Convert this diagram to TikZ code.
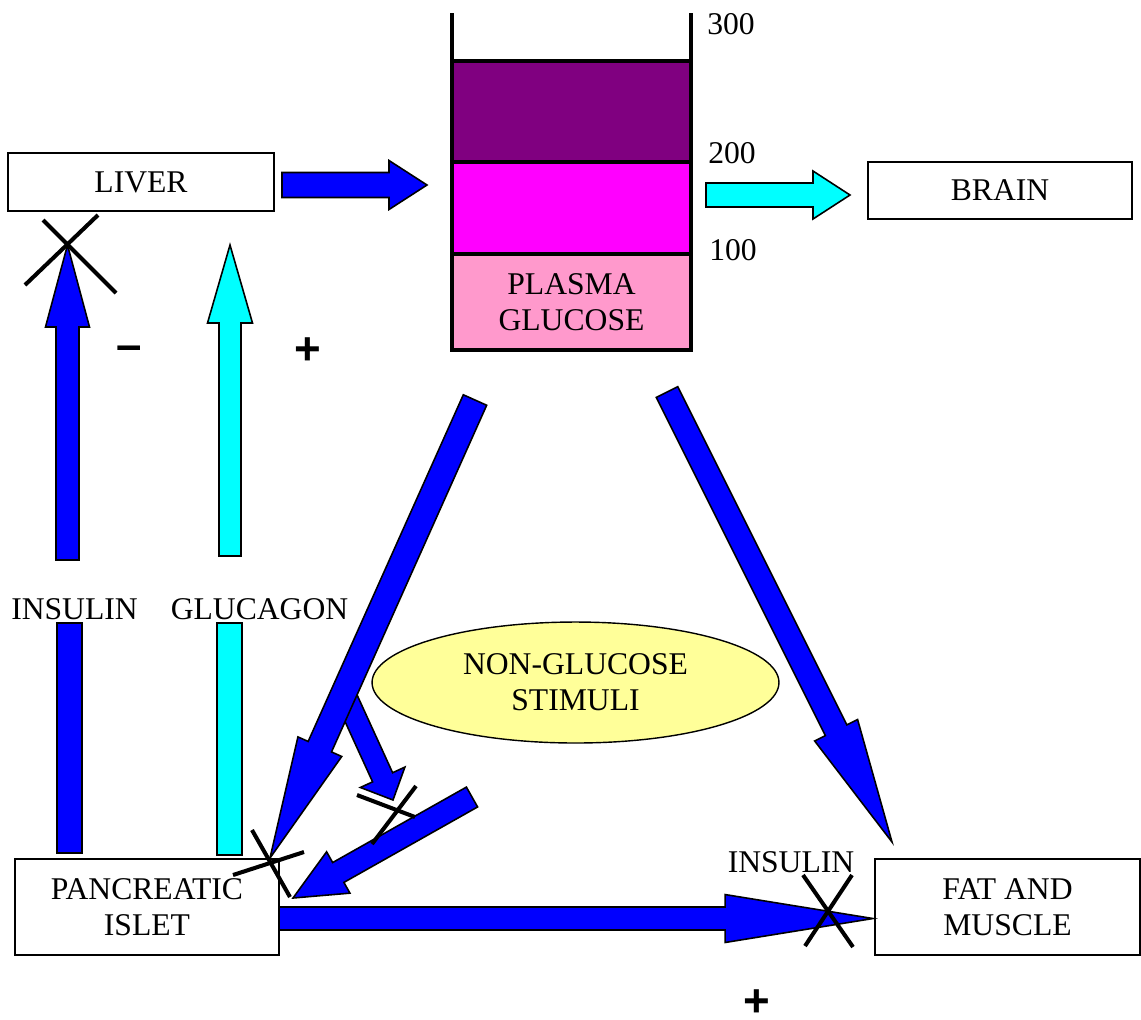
\documentclass[tikz,border=0pt]{standalone}
\usepackage{fontspec}
\setmainfont{Liberation Serif}
\newfontfamily\signfont{Liberation Sans}
\usetikzlibrary{calc,positioning,shapes.geometric}
\definecolor{arrowblue}{RGB}{0,0,255}
\definecolor{aqua}{RGB}{0,255,255}
\definecolor{plum}{RGB}{128,0,128}
\definecolor{fuchsia}{RGB}{255,0,255}
\definecolor{rosepink}{RGB}{255,153,204}
\definecolor{paleyellow}{RGB}{255,255,153}
\tikzset{
  organ/.style={draw=black,line width=0.8pt,fill=white,align=center,inner sep=0pt},
  band/.style={draw=black,line width=1.8pt,minimum width=4.78cm,inner sep=0pt,align=center},
  wall/.style={draw=black,line width=1.8pt},
  fatline/.style={draw=black,line width=0.9pt,line join=miter},
  knockout/.style={draw=black,line width=2.3pt},
  txt/.style={inner sep=0pt},
  signtxt/.style={inner sep=0pt,font=\signfont\bfseries\fontsize{26}{26}\selectfont}
}
% block arrow: fill, tail, tip, shaft half width, head half width, head length
\newcommand{\fatarrow}[6]{%
  \coordinate (hb) at ($(#3)!#6!(#2)$);
  \draw[fatline,fill=#1]
    ($(#2)!#4!90:(#3)$) -- ($(hb)!#4!-90:(#2)$) -- ($(hb)!#5!-90:(#2)$) -- (#3)
    -- ($(hb)!#5!90:(#2)$) -- ($(hb)!#4!90:(#2)$) -- ($(#2)!#4!-90:(#3)$) -- cycle;
}

\begin{document}
\begin{tikzpicture}[x=0.02cm,y=-0.02cm,font=\fontsize{18}{20.5}\selectfont]
\useasboundingbox (0,0) rectangle (1141,1019);

% glucose column
\node[band,fill=rosepink,minimum height=1.92cm] (plasma) at (571.5,302) {PLASMA\\GLUCOSE};
\node[band,fill=fuchsia,minimum height=1.84cm] (midlevel) at (571.5,208) {};
\node[band,fill=plum,minimum height=2.02cm] (highlevel) at (571.5,111.5) {};
\draw[wall] (452,13) -- (452,350) -- (691,350) -- (691,13);
\node[txt] (lvl300) at (731,24) {300};
\node[txt] (lvl200) at (732,153) {200};
\node[txt] (lvl100) at (733,250) {100};

% organs
\node[organ,minimum width=5.32cm,minimum height=1.16cm] (liver) at (141,182) {LIVER};
\node[organ,minimum width=5.28cm,minimum height=1.14cm] (brain) at (1000,190.5) {BRAIN};
\node[organ,minimum width=5.28cm,minimum height=1.92cm] (islet) at (147,907) {PANCREATIC\\ISLET};
\node[organ,minimum width=5.3cm,minimum height=1.92cm] (fat) at (1007.5,907) {FAT AND\\MUSCLE};
\node[ellipse,draw=black,line width=0.8pt,fill=paleyellow,minimum width=8.14cm,minimum height=2.42cm,align=center,inner sep=0pt] (stimuli) at (575.5,682.5) {NON-GLUCOSE\\STIMULI};

% labels
\node[txt] (inslbl) at (74.5,609) {INSULIN};
\node[txt] (glclbl) at (259.5,609) {GLUCAGON};
\node[txt] (fatlbl) at (791,862) {INSULIN};
\node[signtxt] (minus) at (129,353) {–};
\node[signtxt] (plusliver) at (307.5,351) {+};
\node[signtxt] (plusfat) at (757,1003) {+};

% arrow ends
\coordinate (livout) at (282,185);   \coordinate (gluin) at (427,185);
\coordinate (gluout) at (706,195);   \coordinate (brainin) at (850,195);
\coordinate (insbase) at (67.5,560); \coordinate (insend) at (67.5,245);
\coordinate (glcbase) at (230,556);  \coordinate (glcend) at (230,245);
\coordinate (dropl) at (475,400);    \coordinate (dropltip) at (270,858);
\coordinate (dropr) at (667,392);    \coordinate (droprtip) at (892,842);
\coordinate (stimout) at (345,695);  \coordinate (stimtip) at (393,800);
\coordinate (sidein) at (472,797);   \coordinate (sidetip) at (293,898);
\coordinate (isletout) at (279,918.5); \coordinate (fattip) at (873,918.5);

\fatarrow{arrowblue}{livout}{gluin}{0.25cm}{0.49cm}{0.76cm}
\fatarrow{aqua}{gluout}{brainin}{0.24cm}{0.48cm}{0.74cm}
\fatarrow{arrowblue}{insbase}{insend}{0.23cm}{0.44cm}{1.64cm}
\fatarrow{aqua}{glcbase}{glcend}{0.22cm}{0.45cm}{1.56cm}
\draw[fatline,fill=arrowblue] (57,623) rectangle (82,853);
\draw[fatline,fill=aqua] (217,623) rectangle (242,855);
\fatarrow{arrowblue}{stimout}{stimtip}{0.22cm}{0.49cm}{0.5cm}
\fatarrow{arrowblue}{dropl}{dropltip}{0.256cm}{0.48cm}{2.44cm}
\fatarrow{arrowblue}{dropr}{droprtip}{0.24cm}{0.48cm}{2.5cm}
\fatarrow{arrowblue}{sidein}{sidetip}{0.228cm}{0.475cm}{1.04cm}
\fatarrow{arrowblue}{isletout}{fattip}{0.23cm}{0.48cm}{2.96cm}

% blocked steps
\foreach \ax/\ay/\bx/\by in {25/285/98/215, 43/220/116/293, 252/830/290/897, 233/875/304/852,
  357/795/415/817, 416/786/372/844, 803/875/853/947, 852/875/805/946}
  \draw[knockout] (\ax,\ay) -- (\bx,\by);
\end{tikzpicture}
\end{document}
